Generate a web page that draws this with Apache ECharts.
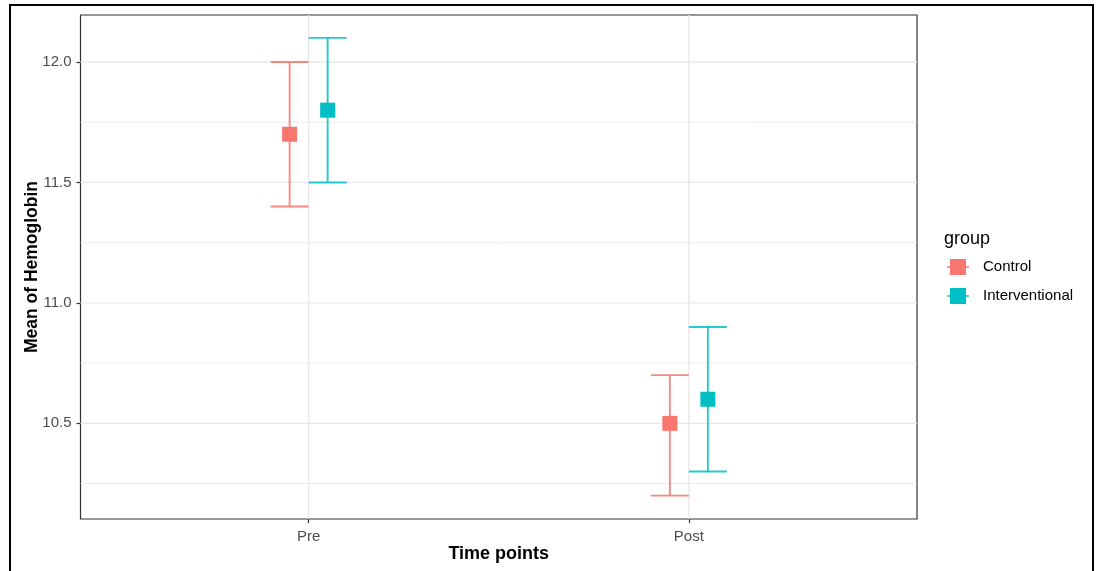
<!DOCTYPE html>
<html>
<head>
<meta charset="utf-8">
<script src="https://cdn.jsdelivr.net/npm/echarts@6/dist/echarts.min.js"></script>
<style>
html,body{margin:0;padding:0;background:#fff;}
#chart{width:1096px;height:571px;}
</style>
</head>
<body>
<div id="chart"></div>
<script>
const categories = ['Pre', 'Post'];
const groups = ['Control', 'Interventional'];
const controlMean = [11.7, 10.5];
const controlLow = [11.4, 10.2];
const controlHigh = [12.0, 10.7];
const interventionalMean = [11.8, 10.6];
const interventionalLow = [11.5, 10.3];
const interventionalHigh = [12.1, 10.9];
const yTicks = [10.5, 11.0, 11.5, 12.0];
const yMinorTicks = [10.25, 10.75, 11.25, 11.75];
const xTicks = [1, 2];
const colors = ['#F8766D', '#00BFC4'];

const FONT = '"Liberation Sans", Arial, sans-serif';
const DODGE = 0.05;
const CAP = 0.05;

function buildData(mean, low, high) {
  return categories.map((c, i) => [i + 1, mean[i], low[i], high[i]]);
}

function errRender(offset, color) {
  return function (params, api) {
    const x = api.value(0) + offset;
    const m = api.value(1), lo = api.value(2), hi = api.value(3);
    const pLo = api.coord([x, lo]);
    const pHi = api.coord([x, hi]);
    const pM = api.coord([x, m]);
    const xl = api.coord([x - CAP, lo])[0];
    const xr = api.coord([x + CAP, lo])[0];
    const st = { stroke: color, lineWidth: 1.9, opacity: 0.85 };
    const s = 15;
    return {
      type: 'group',
      children: [
        { type: 'line', shape: { x1: pLo[0], y1: pLo[1], x2: pHi[0], y2: pHi[1] }, style: st },
        { type: 'line', shape: { x1: xl, y1: pLo[1], x2: xr, y2: pLo[1] }, style: st },
        { type: 'line', shape: { x1: xl, y1: pHi[1], x2: xr, y2: pHi[1] }, style: st },
        { type: 'rect', shape: { x: pM[0] - s / 2, y: pM[1] - s / 2, width: s, height: s }, style: { fill: color } }
      ]
    };
  };
}

function hGridRender(width) {
  return function (params, api) {
    const cs = params.coordSys;
    const y = api.coord([1, api.value(1)])[1];
    return { type: 'line', shape: { x1: cs.x, y1: y, x2: cs.x + cs.width, y2: y },
      style: { stroke: '#E8E8E8', lineWidth: width } };
  };
}
function vGridRender(params, api) {
  const cs = params.coordSys;
  const x = api.coord([api.value(0), 11])[0];
  return { type: 'line', shape: { x1: x, y1: cs.y, x2: x, y2: cs.y + cs.height },
    style: { stroke: '#E8E8E8', lineWidth: 1.3 } };
}

const chart = echarts.init(document.getElementById('chart'), null, { renderer: 'canvas' });
const iconPath = 'path://M0,7.2L22,7.2L22,8.8L0,8.8Z M3,0L19,0L19,16L3,16Z';

chart.setOption({
  animation: false,
  backgroundColor: '#ffffff',
  textStyle: { fontFamily: FONT },
  title: {
    text: 'group', left: 939, top: 225,
    textStyle: { fontFamily: FONT, fontSize: 18, fontWeight: 'normal', color: '#000' }
  },
  legend: {
    orient: 'vertical', left: 942, top: 254,
    itemWidth: 22, itemHeight: 16, itemGap: 13,
    data: groups.map(g => ({ name: g, icon: iconPath })),
    textStyle: { fontFamily: FONT, fontSize: 15, color: '#000', padding: [2, 0, 0, 9] },
    selectedMode: false
  },
  grid: {
    left: 80.5, top: 15, right: 179, bottom: 52,
    show: true, borderColor: '#333333', borderWidth: 1.2, backgroundColor: '#fff',
    containLabel: false
  },
  xAxis: {
    type: 'value', min: 0.4, max: 2.6,
    name: 'Time points', nameLocation: 'middle', nameGap: 26, nameMoveOverlap: false,
    nameTextStyle: { fontFamily: FONT, fontSize: 18, fontWeight: 'bold', color: '#000' },
    axisLine: { show: false },
    axisTick: { show: true, customValues: xTicks, length: 4, lineStyle: { color: '#333', width: 1.2 } },
    axisLabel: { customValues: xTicks, margin: 10, fontFamily: FONT, fontSize: 15, color: '#4D4D4D',
      formatter: v => categories[Math.round(v) - 1] || '' },
    splitLine: { show: false }
  },
  yAxis: {
    type: 'value', min: 10.103, max: 12.195,
    name: 'Mean of Hemoglobin', nameLocation: 'middle', nameGap: 39, nameMoveOverlap: false,
    nameTextStyle: { fontFamily: FONT, fontSize: 17.5, fontWeight: 'bold', color: '#000' },
    axisLine: { show: false },
    axisTick: { show: true, customValues: yTicks, length: 4, lineStyle: { color: '#333', width: 1.2 } },
    axisLabel: { customValues: yTicks, margin: 9, fontFamily: FONT, fontSize: 15, color: '#4D4D4D',
      formatter: v => Number(v).toFixed(1) },
    splitLine: { show: false }
  },
  graphic: [{
    type: 'rect', silent: true, z: 100,
    shape: { x: 10, y: 5, width: 1083, height: 620 },
    style: { fill: 'none', stroke: '#000', lineWidth: 2 }
  }],
  series: [
    { type: 'custom', silent: true, z: 1, renderItem: hGridRender(0.8),
      data: yMinorTicks.map(v => [1, v]), encode: { x: 0, y: 1 } },
    { type: 'custom', silent: true, z: 1, renderItem: hGridRender(1.3),
      data: yTicks.map(v => [1, v]), encode: { x: 0, y: 1 } },
    { type: 'custom', silent: true, z: 1, renderItem: vGridRender,
      data: xTicks.map(v => [v, 11]), encode: { x: 0, y: 1 } },
    { name: groups[0], type: 'custom', z: 5, itemStyle: { color: colors[0] },
      renderItem: errRender(-DODGE, colors[0]),
      data: buildData(controlMean, controlLow, controlHigh), encode: { x: 0, y: [1, 2, 3] } },
    { name: groups[1], type: 'custom', z: 5, itemStyle: { color: colors[1] },
      renderItem: errRender(DODGE, colors[1]),
      data: buildData(interventionalMean, interventionalLow, interventionalHigh), encode: { x: 0, y: [1, 2, 3] } }
  ]
});
</script>
</body>
</html>
